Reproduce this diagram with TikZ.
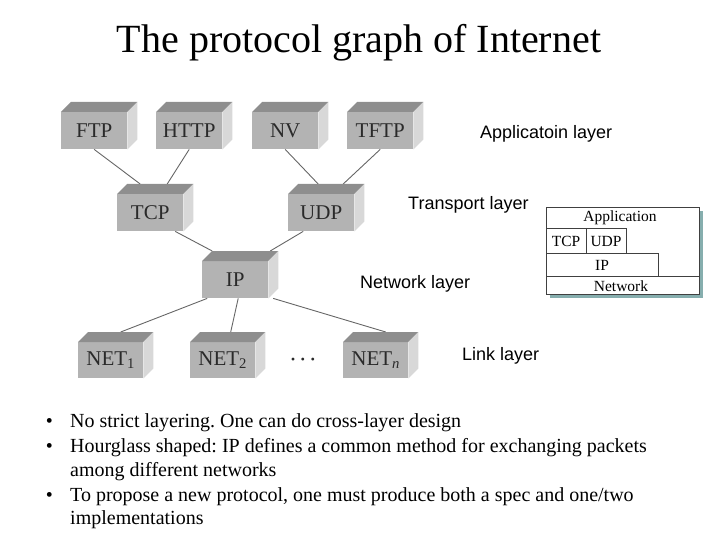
\documentclass[tikz,border=0pt]{standalone}
\usepackage{fontspec}
\setmainfont{Liberation Serif}
\newfontfamily\labelfont{Liberation Sans}
\usetikzlibrary{calc,backgrounds}
\definecolor{boxfront}{HTML}{B3B3B3}
\definecolor{boxtop}{HTML}{8E8E8E}
\definecolor{boxside}{HTML}{D8D8D8}
\definecolor{boxtext}{HTML}{2A2A2A}
\definecolor{shadowc}{HTML}{86AEAE}
\tikzset{
  proto/.style={rectangle, fill=boxfront, minimum width=66pt, minimum height=37pt,
    inner sep=0pt, anchor=north west, font=\fontsize{21}{21}\selectfont, text=boxtext},
  netbox/.style={proto, minimum width=65pt, minimum height=36pt},
  link/.style={draw=black!60, line width=0.9pt},
  layerlabel/.style={anchor=base west, inner sep=0pt, font=\labelfont\fontsize{18}{18}\selectfont},
  bullettext/.style={anchor=base west, inner sep=0pt, font=\fontsize{20}{20}\selectfont},
  bulletmark/.style={anchor=base, inner sep=0pt, font=\fontsize{20}{20}\selectfont},
  stacktext/.style={anchor=base, inner sep=0pt, font=\fontsize{15.5}{15.5}\selectfont},
  stackline/.style={draw=black!75, line width=0.8pt}
}
\begin{document}
\frenchspacing
\begin{tikzpicture}[x=1pt, y=-1pt]
\useasboundingbox (0,0) rectangle (720,540);

% title
\node[anchor=base, inner sep=0pt, font=\fontsize{40}{40}\selectfont] (title) at (359,53) {The protocol graph of Internet};

% protocol boxes (front faces)
\node[proto] (ftp)  at (61,112)  {FTP};
\node[proto] (http) at (156,112) {HTTP};
\node[proto] (nv)   at (252,112) {NV};
\node[proto] (tftp) at (347,112) {TFTP};
\node[proto] (tcp)  at (117,194) {TCP};
\node[proto] (udp)  at (288,194) {UDP};
\node[proto] (ip)   at (202,261) {IP};
\node[netbox] (net1) at (78,342)  {NET\textsubscript{1}};
\node[netbox] (net2) at (190,342) {NET\textsubscript{2}};
\node[netbox] (netn) at (343,342) {NET\textsubscript{\itshape n}};
\node[anchor=base, inner sep=0pt, font=\fontsize{24}{24}\selectfont, text=boxtext] (dots) at (303,367) {·\kern2pt·\kern2pt·};

% 3D faces
\foreach \n in {ftp,http,nv,tftp,tcp,udp,ip,net1,net2,netn}{
  \fill[boxtop] (\n.north west) -- ++(10,-10) -- ($(\n.north east)+(10,-10)$) -- (\n.north east) -- cycle;
  \fill[boxside] (\n.north east) -- ++(10,-10) -- ($(\n.south east)+(10,-10)$) -- (\n.south east) -- cycle;
}

% connectors
\begin{pgfonlayer}{background}
  \draw[link] (ftp.south) -- ($(tcp.north)+(-10,-10)$);
  \draw[link] (http.south) -- ($(tcp.north)+(17,-10)$);
  \draw[link] (nv.south) -- ($(udp.north)+(-3,-10)$);
  \draw[link] (tftp.south) -- ($(udp.north)+(22,-10)$);
  \draw[link] ($(tcp.south)+(25,0)$) -- ($(ip.north)+(-23,-10)$);
  \draw[link] ($(udp.south)+(-18,0)$) -- ($(ip.north)+(35,-10)$);
  \draw[link] ($(ip.south)+(-28,0)$) -- ($(net1.north)+(10,-10)$);
  \draw[link] ($(ip.south)+(3,0)$) -- ($(net2.north)+(8,-10)$);
  \draw[link] ($(ip.south)+(38,0)$) -- ($(netn.north)+(10,-10)$);
\end{pgfonlayer}

% layer labels
\node[layerlabel] (lapp) at (480,138.5) {Applicatoin layer};
\node[layerlabel] (ltra) at (408,209.5) {Transport layer};
\node[layerlabel] (lnet) at (360,288) {Network layer};
\node[layerlabel] (llnk) at (462,360) {Link layer};

% stack diagram
\fill[shadowc] (550,211) rectangle (703,298);
\filldraw[fill=white, stackline] (546,207) rectangle (699,294);
\draw[stackline] (546,228) -- (626,228) -- (626,253);
\draw[stackline] (586,228) -- (586,253);
\draw[stackline] (546,253) -- (658,253) -- (658,276);
\draw[stackline] (546,276) -- (699,276);
\node[stacktext] (sapp) at (620,222) {Application};
\node[stacktext] (stcp) at (566,246) {TCP};
\node[stacktext] (sudp) at (606,246) {UDP};
\node[stacktext] (sip)  at (602,270) {IP};
\node[stacktext] (snet) at (621,291) {Network};

% bullets
\node[bulletmark] (b1) at (49.5,427) {•};
\node[bullettext] (t1) at (70,427) {No strict layering. One can do cross-layer design};
\node[bulletmark] (b2) at (49.5,452) {•};
\node[bullettext] (t2) at (70,452) {Hourglass shaped: IP defines a common method for exchanging packets};
\node[bullettext] (t2b) at (70,476) {among different networks};
\node[bulletmark] (b3) at (49.5,501) {•};
\node[bullettext] (t3) at (70,501) {To propose a new protocol, one must produce both a spec and one/two};
\node[bullettext] (t3b) at (70,524) {implementations};
\end{tikzpicture}
\end{document}
